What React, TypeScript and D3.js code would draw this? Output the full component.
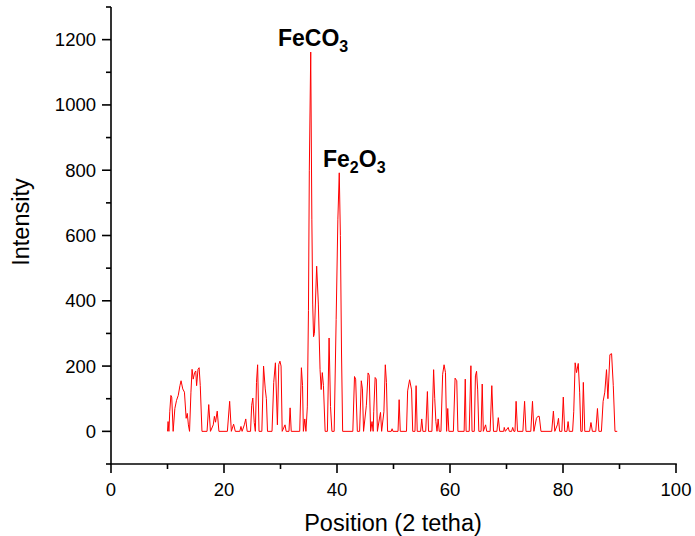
import React from "react";
import * as d3 from "d3";

const twoTheta: number[] = [
  10.0, 10.1, 10.25, 10.4, 10.6, 10.75, 11.0, 11.3, 11.6, 11.9, 12.2, 12.4, 12.7, 13.0, 13.3, 13.5, 13.7, 13.9,
  14.15, 14.35, 14.55, 14.8, 15.0, 15.15, 15.4, 15.6, 15.8, 16.1, 17.0, 17.3, 17.6, 18.1, 18.3, 18.5, 18.8, 19.1,
  20.6, 21.0, 21.3, 21.7, 22.0, 22.8, 23.0, 23.2, 23.6, 23.85, 24.1, 24.7, 24.9, 25.1, 25.35, 25.55, 25.75, 25.95,
  26.2, 26.7, 27.0, 27.3, 27.5, 27.7, 28.5, 28.8, 29.1, 29.45, 29.7, 29.9, 30.1, 30.3, 30.8, 31.0, 31.5, 31.7,
  31.9, 33.4, 33.7, 33.9, 34.05, 34.3, 34.5, 34.75, 34.95, 35.1, 35.35, 35.55, 35.7, 35.85, 36.0, 36.4, 36.7,
  37.0, 37.2, 37.4, 37.6, 37.9, 38.3, 38.6, 38.85, 39.1, 39.5, 39.85, 40.15, 40.4, 40.6, 40.8, 41.0, 42.8, 43.1,
  43.3, 43.6, 44.0, 44.3, 44.5, 44.7, 45.2, 45.5, 45.7, 45.95, 46.2, 46.4, 46.5, 46.75, 46.95, 47.15, 47.5, 47.7,
  47.9, 48.3, 48.55, 48.75, 48.95, 49.6, 49.75, 49.9, 50.8, 51.0, 51.2, 52.3, 52.5, 52.85, 53.2, 53.4, 53.8, 54.0,
  54.2, 54.8, 55.0, 55.2, 55.7, 56.0, 56.2, 56.8, 57.1, 57.3, 57.5, 57.7, 57.9, 58.1, 58.4, 58.7, 58.95, 59.2,
  59.4, 59.6, 59.8, 60.6, 60.9, 61.2, 61.4, 62.5, 62.7, 62.85, 63.4, 63.7, 63.9, 64.3, 64.5, 64.7, 64.9, 65.1,
  65.5, 65.7, 65.9, 66.3, 66.5, 67.1, 67.4, 67.7, 68.3, 68.55, 68.8, 69.5, 69.6, 69.8, 70.3, 70.5, 70.9, 71.1,
  71.3, 71.5, 71.7, 71.95, 72.9, 73.2, 73.45, 74.3, 74.6, 74.85, 75.3, 75.55, 75.8, 76.1, 78.0, 78.3, 78.55,
  79.0, 79.2, 79.4, 79.8, 80.05, 80.3, 80.7, 80.9, 81.1, 81.7, 81.9, 82.15, 82.4, 82.7, 82.95, 83.15, 83.4, 83.6,
  83.85, 84.7, 84.95, 85.2, 85.8, 86.1, 86.35, 86.8, 87.1, 87.4, 87.7, 87.95, 88.3, 88.6, 88.9, 89.2, 89.6,
];

const intensity: number[] = [
  0, 30, 0, 60, 110, 105, 0, 70, 95, 110, 140, 155, 130, 120, 40, 55, 20, 0,
  120, 190, 160, 180, 185, 140, 190, 195, 140, 0, 0, 82, 0, 20, 46, 28, 62, 0,
  0, 92, 0, 22, 0, 0, 15, 0, 20, 38, 0, 0, 80, 102, 27, 0, 150, 204,
  0, 0, 200, 130, 100, 0, 0, 150, 210, 20, 205, 215, 200, 0, 20, 0, 0, 72,
  0, 0, 195, 140, 0, 38, 0, 75, 370, 800, 1162, 650, 390, 290, 300, 506, 390,
  189, 128, 180, 140, 0, 0, 286, 76, 0, 0, 343, 648, 792, 600, 240, 0, 0, 168,
  160, 0, 0, 155, 130, 0, 80, 179, 172, 0, 30, 0, 60, 165, 160, 0, 38, 58,
  0, 60, 204, 150, 0, 0, 8, 0, 0, 97, 0, 0, 124, 158, 127, 0, 0, 140,
  0, 0, 38, 0, 0, 122, 0, 0, 189, 100, 30, 0, 38, 0, 0, 175, 204, 180,
  0, 70, 0, 0, 163, 155, 0, 0, 160, 0, 0, 201, 0, 0, 170, 184, 127, 0,
  0, 145, 0, 20, 0, 0, 140, 0, 0, 42, 0, 0, 12, 0, 12, 0, 0, 12,
  0, 0, 92, 0, 0, 92, 0, 0, 92, 0, 40, 46, 46, 0, 0, 62, 0,
  20, 40, 0, 0, 105, 0, 0, 30, 0, 0, 60, 210, 180, 208, 120, 0, 0, 150,
  0, 0, 27, 0, 0, 70, 0, 0, 92, 120, 189, 100, 235, 238, 140, 0, 0,
];

const xMajorTicks = [0, 20, 40, 60, 80, 100];
const xMinorTicks = [10, 30, 50, 70, 90];
const yMajorTicks = [0, 200, 400, 600, 800, 1000, 1200];
const yMinorTicks = [-100, 100, 300, 500, 700, 900, 1100, 1300];

const xLabel = "Position (2 tetha)";
const yLabel = "Intensity";

export default function App() {
  const width = 695;
  const height = 536;
  const x = d3.scaleLinear().domain([0, 100]).range([111, 676]);
  const y = d3.scaleLinear().domain([-100, 1300]).range([464, 7]);
  const points: [number, number][] = twoTheta.map((t, i) => [t, intensity[i]]);
  const line = d3
    .line<[number, number]>()
    .x((d) => x(d[0]))
    .y((d) => y(d[1]));
  const font = "'Liberation Sans', Arial, sans-serif";
  const x0 = x(0);
  const yBase = y(-100);
  return (
    <svg
      width={width}
      height={height}
      style={{ position: "absolute", left: 0, top: 0, background: "#fff" }}
      fontFamily={font}
    >
      <path d={line(points) || ""} fill="none" stroke="#ff0000" strokeWidth={1} strokeLinejoin="round" />
      {/* axes */}
      <line x1={x0} x2={x0} y1={y(1300)} y2={yBase} stroke="#000" strokeWidth={1.6} />
      <line x1={x0 - 0.8} x2={x(100) + 0.8} y1={yBase} y2={yBase} stroke="#000" strokeWidth={1.6} />
      {yMajorTicks.map((t) => (
        <g key={"ym" + t}>
          <line x1={x0 - 9} x2={x0} y1={y(t)} y2={y(t)} stroke="#000" strokeWidth={1.6} />
          <text x={x0 - 15} y={y(t)} dy="0.35em" textAnchor="end" fontSize={18.5} fill="#000">
            {t}
          </text>
        </g>
      ))}
      {yMinorTicks.map((t) => (
        <line key={"yn" + t} x1={x0 - 5} x2={x0} y1={y(t)} y2={y(t)} stroke="#000" strokeWidth={1.6} />
      ))}
      {xMajorTicks.map((t) => (
        <g key={"xm" + t}>
          <line x1={x(t)} x2={x(t)} y1={yBase} y2={yBase + 9} stroke="#000" strokeWidth={1.6} />
          <text x={x(t)} y={496} textAnchor="middle" fontSize={18.5} fill="#000">
            {t}
          </text>
        </g>
      ))}
      {xMinorTicks.map((t) => (
        <line key={"xn" + t} x1={x(t)} x2={x(t)} y1={yBase} y2={yBase + 5} stroke="#000" strokeWidth={1.6} />
      ))}
      <text x={393} y={531} textAnchor="middle" fontSize={23.5} fill="#000">
        {xLabel}
      </text>
      <text
        transform="translate(29,222) rotate(-90)"
        textAnchor="middle"
        fontSize={23.5}
        fill="#000"
      >
        {yLabel}
      </text>
      {/* annotations */}
      <text x={278} y={46} fontSize={23} fontWeight="bold" fill="#000">
        FeCO
        <tspan dy={6} fontSize={16}>3</tspan>
      </text>
      <text x={323} y={167} fontSize={23} fontWeight="bold" fill="#000">
        Fe
        <tspan dy={6} fontSize={16}>2</tspan>
        <tspan dy={-6}>O</tspan>
        <tspan dy={6} fontSize={16}>3</tspan>
      </text>
    </svg>
  );
}
